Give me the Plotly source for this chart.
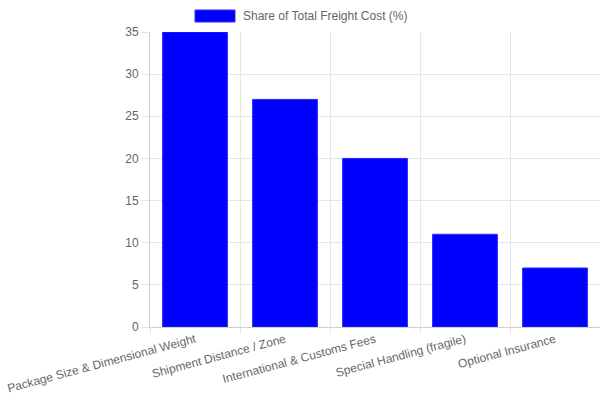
import plotly.graph_objects as go

categories = [
    "Package Size & Dimensional Weight",
    "Shipment Distance / Zone",
    "International & Customs Fees",
    "Special Handling (fragile)",
    "Optional Insurance",
]
share = [35, 27, 20, 11, 7]
series_name = "Share of Total Freight Cost (%)"

grid = "#e6e6e6"
text_col = "#666666"

fig = go.Figure()
fig.add_trace(go.Bar(
    x=categories,
    y=share,
    name=series_name,
    marker=dict(color="#0000ff", line=dict(color="#2a2aff", width=1)),
    showlegend=False,
    hoverinfo="x+y",
))

# legend drawn chart.js style: wide colour box + label
fig.add_shape(type="rect", xref="paper", yref="paper",
              x0=(195 - 150) / 450, x1=(235 - 150) / 450,
              y0=(327 - 22) / 295, y1=(327 - 10) / 295,
              fillcolor="#0000ff", line=dict(color="#2a2aff", width=1))
fig.add_annotation(text=series_name, xref="paper", yref="paper",
                   x=(241 - 150) / 450, y=(327 - 16) / 295,
                   xanchor="left", yanchor="middle", showarrow=False,
                   font=dict(size=12, color=text_col))

fig.update_layout(
    width=600, height=400,
    margin=dict(l=150, r=0, t=32, b=73),
    plot_bgcolor="white", paper_bgcolor="white",
    font=dict(family="Liberation Sans, Arial, sans-serif", size=12, color=text_col),
    bargap=0.28,
    xaxis=dict(
        type="category",
        tickson="boundaries",
        showgrid=True, gridcolor=grid, gridwidth=1,
        ticks="outside", ticklen=6, tickcolor=grid,
        tickangle=-15,
        showline=True, linecolor="#d0d0d0", linewidth=1,
        automargin=False,
        tickfont=dict(size=12, color=text_col),
    ),
    yaxis=dict(
        range=[0, 35], dtick=5,
        showgrid=True, gridcolor=grid, gridwidth=1,
        ticks="outside", ticklen=8, tickcolor=grid,
        showline=True, linecolor="#d0d0d0", linewidth=1,
        zeroline=False,
        automargin=False,
        tickfont=dict(size=12, color=text_col),
    ),
)

# drop the default body margin so the figure sits at the window's corner
fig.write_html("out.html", config={"displayModeBar": False},
               post_script="document.body.style.margin='0';")
